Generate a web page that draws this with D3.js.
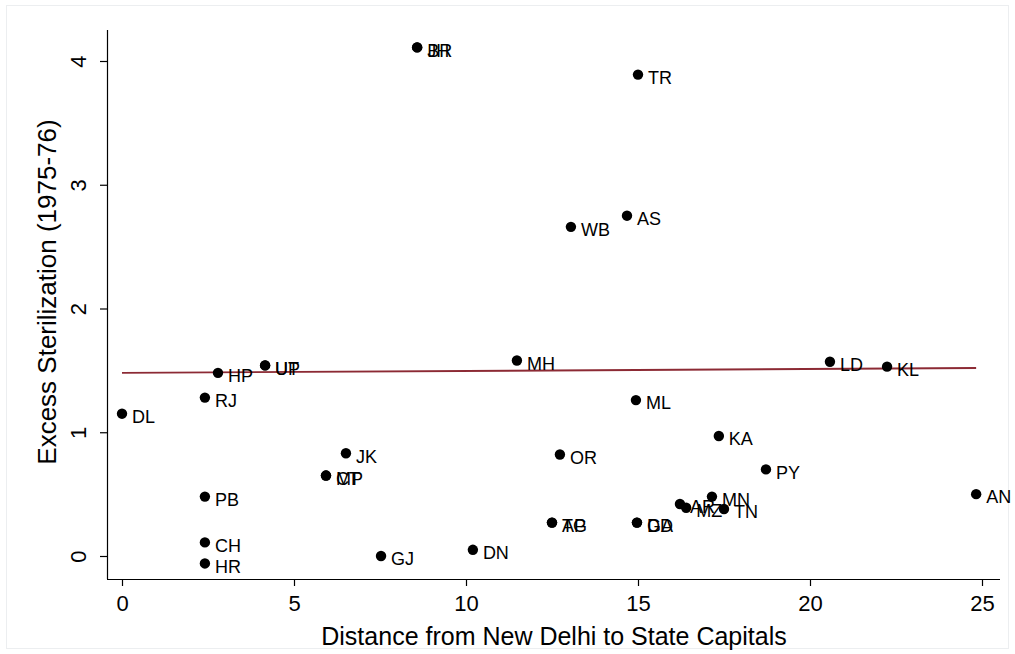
<!DOCTYPE html>
<html><head><meta charset="utf-8">
<script src="https://cdn.jsdelivr.net/npm/d3@7"></script>
<style>body{margin:0;background:#fff;} svg{display:block;font-family:"Liberation Sans",Arial,Helvetica,sans-serif;}</style>
</head><body>
<svg id="c" width="1015" height="654"></svg>
<script>
const states = ["BR","JH","TR","AS","WB","MH","LD","KL","UP","UT","HP","RJ","DL","ML","KA","JK","OR","PY","MP","CT","PB","AN","MN","AR","MZ","TN","TG","AP","GA","DD","CH","HR","GJ","DN"];
const distance = [8.58,8.58,15.0,14.68,13.05,11.48,20.58,22.24,4.16,4.16,2.79,2.41,0.0,14.94,17.35,6.51,12.73,18.72,5.93,5.93,2.41,24.83,17.15,16.22,16.4,17.5,12.5,12.5,14.97,14.97,2.41,2.41,7.53,10.2];
const excess = [4.11,4.11,3.89,2.75,2.66,1.58,1.57,1.53,1.54,1.54,1.48,1.28,1.15,1.26,0.97,0.83,0.82,0.70,0.65,0.65,0.48,0.50,0.48,0.42,0.39,0.38,0.27,0.27,0.27,0.27,0.11,-0.06,0.0,0.05];
const fitX = [0, 24.83];
const fitY = [1.479, 1.519];
const xTicks = [0,5,10,15,20,25];
const yTicks = [0,1,2,3,4];

const svg = d3.select("#c");
svg.append("rect").attr("x",6.5).attr("y",5.5).attr("width",1002).attr("height",643)
  .attr("fill","none").attr("stroke","#eceef0").attr("stroke-width",1);

const x = d3.scaleLinear().domain([0,25]).range([122,982]);
const y = d3.scaleLinear().domain([0,4]).range([556,61]);

// axes
const xAxis = svg.append("g").attr("transform","translate(0,579)")
  .call(d3.axisBottom(x).tickValues(xTicks).tickFormat(d3.format("d")).tickSize(7).tickPadding(9));
xAxis.select(".domain").attr("d","M107,0.5H1000");
xAxis.selectAll("text").attr("font-size",22).attr("fill","#000");
const yAxis = svg.append("g").attr("transform","translate(107,0)")
  .call(d3.axisLeft(y).tickValues(yTicks).tickFormat(d3.format("d")).tickSize(7));
yAxis.select(".domain").attr("d","M0.5,30V579");
yAxis.selectAll(".tick text").attr("font-size",22).attr("fill","#000")
  .attr("transform","rotate(-90)").attr("x",0).attr("y",-29).attr("dy","0.35em").attr("text-anchor","middle");
svg.selectAll(".domain, .tick line").attr("stroke","#000").attr("stroke-width",1.2);

svg.append("text").attr("x",554).attr("y",645).attr("text-anchor","middle")
  .attr("font-size",25).text("Distance from New Delhi to State Capitals");
svg.append("text").attr("transform","translate(56,292) rotate(-90)").attr("text-anchor","middle")
  .attr("font-size",26).text("Excess Sterilization (1975-76)");

// fit line
svg.append("line").attr("x1",x(fitX[0])).attr("y1",y(fitY[0])).attr("x2",x(fitX[1])).attr("y2",y(fitY[1]))
  .attr("stroke","#8c2a34").attr("stroke-width",1.8);

// points
const data = states.map((s,i)=>({s, d:distance[i], e:excess[i]}));
svg.append("g").selectAll("circle").data(data).join("circle")
  .attr("cx",d=>x(d.d)).attr("cy",d=>y(d.e)).attr("r",5.2).attr("fill","#000");
svg.append("g").selectAll("text").data(data).join("text")
  .attr("x",d=>x(d.d)+10).attr("y",d=>y(d.e)+3).attr("dy","0.35em")
  .attr("font-size",18).attr("fill","#000").text(d=>d.s);
</script>
</body></html>
